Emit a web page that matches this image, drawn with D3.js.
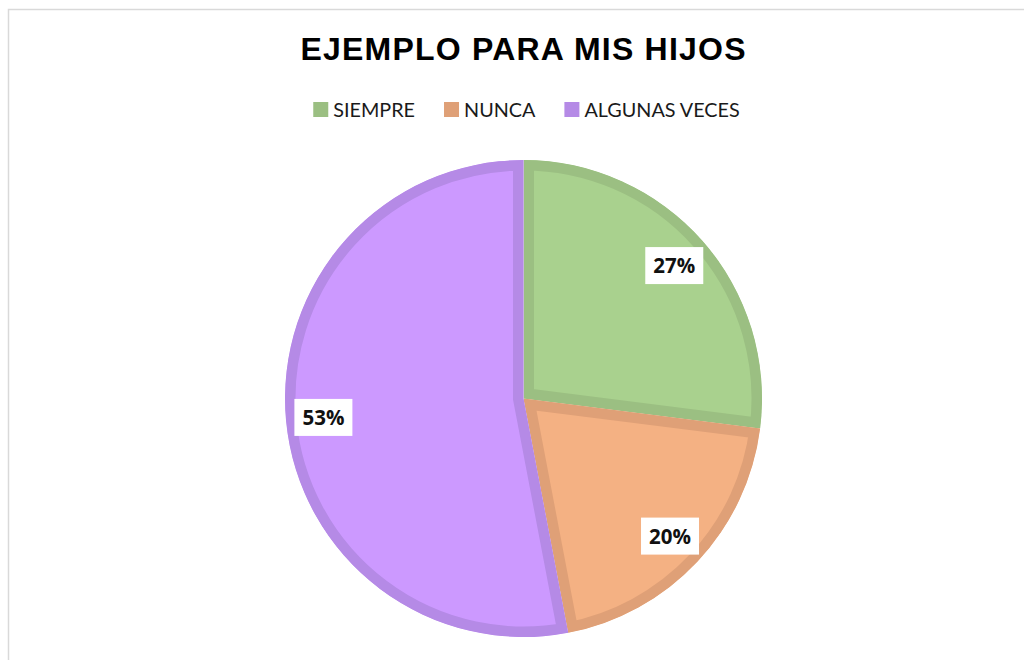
<!DOCTYPE html>
<html>
<head>
<meta charset="utf-8">
<script src="https://cdn.jsdelivr.net/npm/d3@7"></script>
<style>
  html, body { margin: 0; padding: 0; background: #fff; }
  svg { display: block; }
</style>
</head>
<body>
<div id="chart"></div>
<script>
// chart values
var categories = ['SIEMPRE', 'NUNCA', 'ALGUNAS VECES'];
var values = [27, 20, 53];
var labels = ['27%', '20%', '53%'];
var fills = ['#a9d18e', '#f4b183', '#cc99ff'];
var strokes = ['#9bbf82', '#dfa077', '#b58ae6'];
var title = 'EJEMPLO PARA MIS HIJOS';

var W = 1024, H = 660;
var cx = 523.5, cy = 398.5, R = 238.5;

var svg = d3.select('#chart').append('svg')
    .attr('width', W)
    .attr('height', H);

// chart area border (runs off the right and bottom)
svg.append('rect')
    .attr('x', 8.5).attr('y', 9.5)
    .attr('width', W + 20).attr('height', H + 20)
    .attr('fill', 'none')
    .attr('stroke', '#d9d9d9')
    .attr('stroke-width', 1.5);

var t = svg.append('text')
    .attr('x', 523)
    .attr('y', 60)
    .attr('text-anchor', 'middle')
    .style('font-family', '"Liberation Sans", Arial, sans-serif')
    .style('font-weight', 'bold')
    .style('font-size', '32px')
    .attr('fill', '#000')
    .text(title);
// stretch letter spacing to the reference width
var tw = t.node().getComputedTextLength();
var ls = (445 - tw) / (title.length - 1);
t.style('letter-spacing', ls + 'px').attr('x', 523 + ls / 2);

// legend
var legend = svg.append('g').attr('class', 'legend');
var items = legend.selectAll('g')
    .data(categories)
    .enter().append('g');

items.append('rect')
    .attr('width', 15).attr('height', 15)
    .attr('y', 102)
    .attr('fill', (d, i) => strokes[i]);

items.append('text')
    .attr('x', 20)
    .attr('y', 116.5)
    .style('font-family', 'Lato, "Open Sans", sans-serif')
    .style('font-size', '19.8px')
    .attr('fill', '#1a1a1a')
    .text(d => d);

var xPos = 0, gap = 29, widths = [];
items.each(function() {
    var w = 20 + d3.select(this).select('text').node().getComputedTextLength();
    widths.push(w);
});
var total = d3.sum(widths) + gap * (widths.length - 1);
var start = 526.5 - total / 2;
items.attr('transform', function(d, i) {
    var x = start + xPos;
    xPos += widths[i] + gap;
    return 'translate(' + x + ',0)';
});

// pie
var pie = d3.pie().sort(null).value(d => d);
var arcs = pie(values);
var arc = d3.arc().innerRadius(0).outerRadius(R);
var labelArc = d3.arc().innerRadius(201).outerRadius(201);

var defs = svg.append('defs');
defs.selectAll('clipPath')
    .data(arcs)
    .enter().append('clipPath')
    .attr('id', (d, i) => 'clip' + i)
    .append('path')
    .attr('d', arc);

var g = svg.append('g')
    .attr('transform', 'translate(' + cx + ',' + cy + ')');

g.selectAll('.slice')
    .data(arcs)
    .enter().append('path')
    .attr('class', 'slice')
    .attr('d', arc)
    .attr('fill', (d, i) => fills[i])
    .attr('stroke', (d, i) => strokes[i])
    .attr('stroke-width', 21)
    .attr('stroke-linejoin', 'miter')
    .attr('clip-path', (d, i) => 'url(#clip' + i + ')');

// data labels
var lab = g.selectAll('.lab')
    .data(arcs)
    .enter().append('g')
    .attr('class', 'lab')
    .attr('transform', d => 'translate(' + labelArc.centroid(d) + ')');

lab.append('rect')
    .attr('x', -29).attr('y', -18.5)
    .attr('width', 58).attr('height', 37)
    .attr('fill', '#fff');

lab.append('text')
    .attr('text-anchor', 'middle')
    .attr('y', 7.5)
    .style('font-family', '"Open Sans", Lato, sans-serif')
    .style('font-weight', 'bold')
    .style('font-size', '20.5px')
    .attr('fill', '#111')
    .text((d, i) => labels[i]);
</script>
</body>
</html>
